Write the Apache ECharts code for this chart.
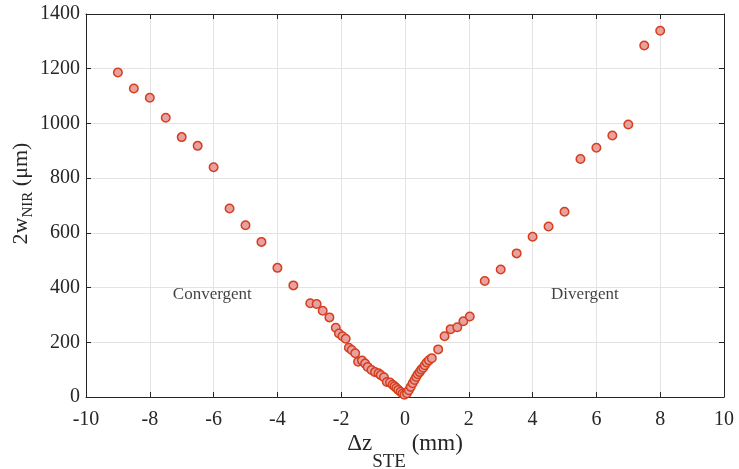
<!DOCTYPE html>
<html>
<head>
<meta charset="utf-8">
<script src="https://cdn.jsdelivr.net/npm/echarts@6/dist/echarts.min.js"></script>
<style>
  html, body { margin: 0; padding: 0; background: #fff; }
  #chart { width: 739px; height: 469px; }
</style>
</head>
<body>
<div id="chart"></div>
<script>
// beam position (mm) and measured diameter (um)
const dz = [
  -9, -8.5, -8, -7.5, -7, -6.5, -6, -5.5, -5, -4.5, -4, -3.5,
  -2.97, -2.77, -2.58, -2.37, -2.17, -2.07, -1.96, -1.86, -1.76, -1.67, -1.56,
  -1.47, -1.35, -1.25, -1.17, -1.05, -0.94, -0.83, -0.76, -0.66, -0.57, -0.47,
  -0.39, -0.33, -0.27, -0.21, -0.14, -0.08, -0.02,
  0.06, 0.12, 0.18, 0.24, 0.30, 0.35, 0.40, 0.46, 0.51, 0.57, 0.62, 0.68, 0.75,
  0.84, 1.04, 1.24, 1.43, 1.64, 1.83, 2.03,
  2.5, 3, 3.5, 4, 4.5, 5, 5.5, 6, 6.5, 7, 7.5, 8
];
const diam = [
  1186, 1128, 1094, 1021, 950, 918, 840, 689, 628, 567, 472, 408,
  343, 340, 315, 291, 253, 232, 222, 213, 180, 172, 160,
  129, 133, 122, 110, 99, 91, 87, 80, 72, 55, 53,
  45, 39, 33, 26, 19, 13, 8,
  14, 25, 37, 50, 62, 73, 83, 91, 100, 107, 116, 126, 134,
  142, 174, 222, 248, 255, 277, 294,
  424, 466, 525, 586, 623, 677, 870, 911, 956, 996, 1285, 1339
];
const xTicks = [-10, 10, 2];
const yTicks = [0, 1400, 200];
const labels = [
  { text: 'Convergent', x: -6.04, y: 374 },
  { text: 'Divergent', x: 5.64, y: 375 }
];

const points = dz.map((x, i) => [x, diam[i]]);
const axisColor = '#262626';
const font = 'Liberation Serif';

const chart = echarts.init(document.getElementById('chart'));

const baseX = {
  type: 'value',
  min: xTicks[0], max: xTicks[1], interval: xTicks[2],
  axisLine: { onZero: false, lineStyle: { color: axisColor, width: 1 } },
  axisTick: { inside: true, length: 5, lineStyle: { color: axisColor } },
  splitLine: { show: false }
};
const baseY = {
  type: 'value',
  min: yTicks[0], max: yTicks[1], interval: yTicks[2],
  axisLine: { onZero: false, lineStyle: { color: axisColor, width: 1 } },
  axisTick: { inside: true, length: 5, lineStyle: { color: axisColor } },
  splitLine: { show: false }
};

chart.setOption({
  backgroundColor: '#fff',
  animation: false,
  grid: { left: 86, right: 15, top: 14, bottom: 72, outerBoundsMode: 'none', containLabel: false },
  xAxis: [
    Object.assign({}, baseX, {
      position: 'bottom',
      splitLine: { show: true, lineStyle: { color: '#e3e3e3', width: 1 } },
      axisLabel: { color: axisColor, fontFamily: font, fontSize: 20, margin: 13 },
      name: '{a|Δz}{s|STE}{a| (mm)}',
      nameLocation: 'middle',
      nameMoveOverlap: false,
      nameGap: 36,
      nameTextStyle: {
        rich: {
          a: { fontFamily: font, fontSize: 23, color: axisColor, lineHeight: 22 },
          s: { fontFamily: font, fontSize: 19, color: axisColor, lineHeight: 18, padding: [36, 0, 0, 0] }
        }
      }
    }),
    Object.assign({}, baseX, { position: 'top', axisLabel: { show: false } })
  ],
  yAxis: [
    Object.assign({}, baseY, {
      position: 'left',
      splitLine: { show: true, lineStyle: { color: '#e3e3e3', width: 1 } },
      axisLabel: {
        color: axisColor, fontFamily: font, fontSize: 20, margin: 6,
        formatter: v => String(v)
      },
      name: '{a|2w}{s|NIR}{a| (μm)}',
      nameLocation: 'middle',
      nameMoveOverlap: false,
      nameRotate: 90,
      nameGap: 54,
      nameTextStyle: {
        padding: [0, 0, 0, 24],
        rich: {
          a: { fontFamily: font, fontSize: 22, color: axisColor, lineHeight: 22 },
          s: { fontFamily: font, fontSize: 15, color: axisColor, lineHeight: 16, padding: [14, 0, 0, 0] }
        }
      }
    }),
    Object.assign({}, baseY, { position: 'right', axisLabel: { show: false } })
  ],
  series: [
    {
      type: 'scatter',
      data: points,
      symbol: 'circle',
      symbolSize: 8.5,
      itemStyle: { color: '#e9a0a0', borderColor: '#d4401e', borderWidth: 1.5, opacity: 1 },
      z: 5
    },
    {
      type: 'scatter',
      data: labels.map(l => [l.x, l.y]),
      symbolSize: 0,
      silent: true,
      label: {
        show: true,
        position: 'inside',
        formatter: p => labels[p.dataIndex].text,
        fontFamily: font,
        fontSize: 17,
        color: '#111'
      },
      z: 6
    }
  ]
});
</script>
</body>
</html>
